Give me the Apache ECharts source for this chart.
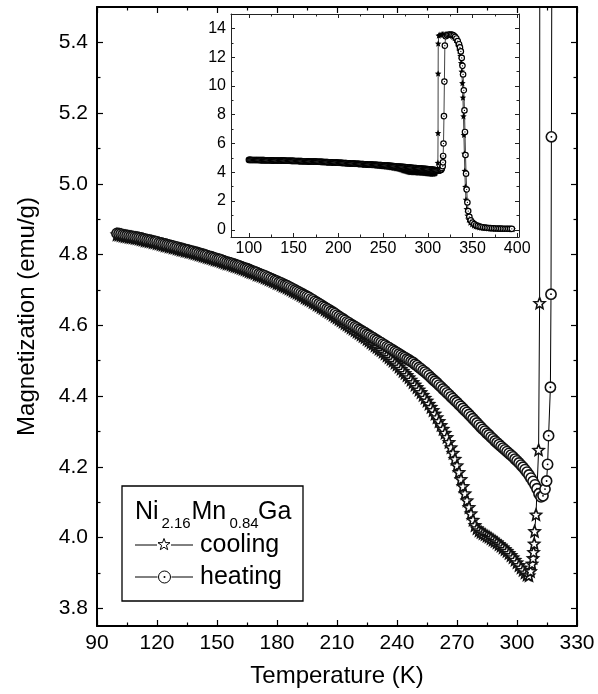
<!DOCTYPE html>
<html>
<head>
<meta charset="utf-8">
<script src="https://cdn.jsdelivr.net/npm/echarts@6/dist/echarts.min.js"></script>
<style>
  html, body { margin: 0; padding: 0; background: #fff; }
  #chart { width: 598px; height: 694px; }
</style>
</head>
<body>
<div id="chart"></div>
<script>
// Heating run: temperature (K) and magnetization (emu/g)
const heatT = [
  100,101,102,103,104,105,106,107,108,109,110,111,112,113,114,115,116,117,118,119,
  120,121,122,123,124,125,126,127,128,129,130,131,132,133,134,135,136,137,138,139,
  140,141,142,143,144,145,146,147,148,149,150,151,152,153,154,155,156,157,158,159,
  160,161,162,163,164,165,166,167,168,169,170,171,172,173,174,175,176,177,178,179,
  180,181,182,183,184,185,186,187,188,189,190,191,192,193,194,195,196,197,198,199,
  200,201,202,203,204,205,206,207,208,209,210,211,212,213,214,215,216,217,218,219,
  220,221,222,223,224,225,226,227,228,229,230,231,232,233,234,235,236,237,238,239,
  240,241,242,243,244,245,246,247,248,249,250,251,252,253,254,255,256,257,258,259,
  260,261,262,263,264,265,266,267,268,269,270,271,272,273,274,275,276,277,278,279,
  280,281,282,283,284,285,286,287,288,289,290,291,292,293,294,295,296,297,298,299,
  300,301,302,303,304,305,306,307,308,309,310,
  311,312,313,314,314.8,315.3,315.8,316.7,317.0,317.2,
  317.6,318.1,318.6,319.1,
  320,321.5,323,324.5,326,327.5,329,330.5,332,333.5,335,
  336,337,338,338.8,339.5,340.3,341,341.6,342.2,342.8,343.5,344.3,345.2,346.5,
  348,350,352,354,356,358,360,362,364,366,368,370,372,374,376,378,380,382,384,386,388,390,392,394];
const heatM = [
  4.860,4.859,4.858,4.856,4.855,4.854,4.853,4.852,4.851,4.850,4.849,4.848,4.847,4.845,4.844,4.842,4.841,4.840,4.838,4.837,
  4.836,4.834,4.833,4.831,4.830,4.828,4.827,4.825,4.824,4.822,4.821,4.819,4.818,4.816,4.815,4.813,4.812,4.810,4.809,4.807,
  4.806,4.804,4.802,4.801,4.799,4.797,4.795,4.794,4.792,4.790,4.788,4.787,4.785,4.783,4.781,4.779,4.777,4.776,4.774,4.772,
  4.770,4.768,4.766,4.764,4.762,4.760,4.758,4.755,4.753,4.751,4.749,4.746,4.744,4.742,4.740,4.737,4.735,4.732,4.730,4.727,
  4.725,4.722,4.720,4.717,4.714,4.712,4.709,4.706,4.703,4.700,4.697,4.694,4.691,4.688,4.685,4.682,4.679,4.675,4.672,4.668,
  4.665,4.661,4.658,4.654,4.651,4.647,4.644,4.640,4.637,4.633,4.629,4.625,4.621,4.618,4.614,4.610,4.607,4.603,4.600,4.596,
  4.593,4.589,4.586,4.582,4.579,4.575,4.572,4.568,4.565,4.561,4.558,4.554,4.551,4.547,4.544,4.540,4.537,4.533,4.530,4.526,
  4.523,4.519,4.516,4.512,4.509,4.505,4.502,4.498,4.495,4.490,4.486,4.481,4.477,4.472,4.468,4.463,4.458,4.452,4.447,4.442,
  4.437,4.431,4.426,4.420,4.415,4.409,4.404,4.398,4.393,4.387,4.382,4.376,4.371,4.365,4.359,4.354,4.348,4.342,4.336,4.330,
  4.324,4.318,4.312,4.306,4.301,4.295,4.290,4.284,4.279,4.273,4.268,4.263,4.258,4.253,4.248,4.243,4.238,4.233,4.228,4.222,
  4.217,4.211,4.205,4.199,4.192,4.185,4.177,4.168,4.159,4.149,4.138,
  4.124,4.115,4.118,4.137,4.160,4.207,4.288,4.425,4.688,5.133,
  6.0,7.9,10.3,12.8,
  13.45,13.52,13.56,13.58,13.57,13.55,13.5,13.42,13.3,13.12,12.9,
  12.68,12.4,11.95,11.4,10.8,9.7,8.3,6.8,5.2,3.9,2.8,1.9,1.3,0.9,
  0.66,0.5,0.4,0.32,0.27,0.23,0.2,0.18,0.16,0.14,0.13,0.12,0.11,0.1,0.095,0.09,0.085,0.08,0.078,0.075,0.072,0.07,0.068,0.065];

// Cooling run: temperature (K) and magnetization (emu/g)
const coolT = [
  100,101,102,103,104,105,106,107,108,109,110,111,112,113,114,115,116,117,118,119,
  120,121,122,123,124,125,126,127,128,129,130,131,132,133,134,135,136,137,138,139,
  140,141,142,143,144,145,146,147,148,149,150,151,152,153,154,155,156,157,158,159,
  160,161,162,163,164,165,166,167,168,169,170,171,172,173,174,175,176,177,178,179,
  180,181,182,183,184,185,186,187,188,189,190,191,192,193,194,195,196,197,198,199,
  200,201,202,203,204,205,206,207,208,209,210,211,212,213,214,215,216,217,218,219,
  220,221,222,223,224,225,226,227,228,229,230,231,232,233,234,235,236,237,238,239,
  240,241,242,243,244,245,246,247,248,249,250,251,252,253,254,255,256,257,258,259,
  260,261,262,263,264,265,266,267,268,269,270,271,272,273,274,275,276,277,278,279,
  280,281,282,283,284,285,286,287,288,289,290,291,292,293,294,295,296,297,298,299,
  300,301,302,303,304,305,
  306,306.8,307.5,308,308.3,308.6,308.8,309.5,310.8,311.3,
  311.5,311.6,311.7,312.3,313.5,315,316.5,318,319.5,321,322.5,324,325.5,327,328.5,330,331.5,333,334.5,335.5,336.5,337.3,338,338.7,339.3,339.9,340.4,340.9,341.4,342,342.7,343.5,344.5,345.8,347.5,
  349.5,351.5,353.5,355.5,357.5,359.5,361.5,363.5,365.5,367.5,369.5,371.5,373.5,375.5,377.5,379.5,381.5,383.5,385.5,387.5,389.5,391.5,393.5,395];
const coolM = [
  4.857,4.856,4.855,4.853,4.852,4.851,4.850,4.849,4.848,4.847,4.846,4.845,4.843,4.842,4.840,4.839,4.838,4.837,4.835,4.834,
  4.832,4.831,4.829,4.828,4.826,4.825,4.823,4.822,4.820,4.819,4.817,4.816,4.814,4.813,4.811,4.810,4.808,4.807,4.805,4.804,
  4.802,4.800,4.799,4.797,4.795,4.793,4.792,4.790,4.788,4.786,4.785,4.783,4.781,4.779,4.777,4.775,4.774,4.772,4.770,4.768,
  4.766,4.764,4.762,4.760,4.758,4.756,4.753,4.751,4.749,4.747,4.744,4.742,4.740,4.738,4.735,4.733,4.730,4.728,4.725,4.723,
  4.720,4.718,4.715,4.712,4.710,4.707,4.704,4.701,4.698,4.695,4.692,4.689,4.686,4.683,4.679,4.676,4.673,4.670,4.666,4.663,
  4.659,4.656,4.652,4.649,4.645,4.641,4.638,4.634,4.630,4.626,4.622,4.618,4.614,4.610,4.606,4.602,4.598,4.594,4.590,4.586,
  4.582,4.578,4.574,4.570,4.566,4.561,4.557,4.552,4.548,4.543,4.539,4.534,4.530,4.525,4.520,4.515,4.510,4.505,4.500,4.494,
  4.489,4.483,4.477,4.471,4.465,4.459,4.453,4.446,4.439,4.432,4.425,4.418,4.411,4.403,4.395,4.387,4.378,4.369,4.360,4.350,
  4.340,4.329,4.318,4.307,4.296,4.284,4.270,4.255,4.239,4.222,4.204,4.185,4.165,4.145,4.125,4.105,4.086,4.068,4.050,4.035,
  4.026,4.020,4.016,4.012,4.009,4.005,4.002,3.998,3.994,3.990,3.986,3.981,3.977,3.972,3.967,3.962,3.956,3.950,3.944,3.937,
  3.930,3.922,3.915,3.908,3.901,3.895,
  3.893,3.905,3.926,3.942,3.959,3.983,4.018,4.065,4.248,4.663,
  6.73,10.86,12.95,13.5,13.55,13.58,13.6,13.6,13.6,13.59,13.57,13.55,13.52,13.48,13.42,13.33,13.2,13.0,12.72,12.45,12.1,11.6,11.0,10.2,9.2,7.9,6.6,5.3,4.1,3.0,2.1,1.45,1.0,0.72,0.5,
  0.38,0.3,0.25,0.21,0.18,0.16,0.14,0.13,0.12,0.11,0.1,0.095,0.09,0.085,0.08,0.078,0.075,0.072,0.07,0.068,0.066,0.064,0.062,0.06];

// Tick values
const mainYMajor = [3.8, 4.0, 4.2, 4.4, 4.6, 4.8, 5.0, 5.2, 5.4];
const mainYMinor = [3.9, 4.1, 4.3, 4.5, 4.7, 4.9, 5.1, 5.3];
const insetXMajor = [100, 150, 200, 250, 300, 350, 400];
const insetXMinor = [125, 175, 225, 275, 325, 375];
const insetYMajor = [0, 2, 4, 6, 8, 10, 12, 14];
const insetYMinor = [1, 3, 5, 7, 9, 11, 13];

const pairs = (xs, ys) => xs.slice(0, Math.min(xs.length, ys.length)).map((x, i) => [x, ys[i]]);
const heating = pairs(heatT, heatM);
const cooling = pairs(coolT, coolM);

const FONT = '"Liberation Sans", Arial, Helvetica, sans-serif';
const STAR = 'path://M0,-10 L2.645,-3.64 L9.51,-3.09 L4.28,1.39 L5.88,8.09 L0,4.5 L-5.88,8.09 L-4.28,1.39 L-9.51,-3.09 L-2.645,-3.64 Z';

// Axis builder: a frame edge with inward ticks, optional labels
function ax(o) {
  const lineW = o.lineW || 2;
  const a = {
    type: 'value',
    gridIndex: o.grid,
    position: o.pos,
    min: o.min,
    max: o.max,
    splitLine: { show: false },
    axisLine: { show: o.line !== false, onZero: false, lineStyle: { color: o.color || '#000', width: lineW } },
    axisTick: { show: true, inside: true, length: o.tickLen, lineStyle: { color: o.color || '#000', width: o.tickW || 1.2 } },
    axisLabel: { show: !!o.labels, color: '#000', fontFamily: FONT, fontSize: o.fontSize || 20, margin: o.margin || 8,
                 formatter: o.fmt },
  };
  if (o.interval) {
    a.interval = o.interval;
    if (o.minor) a.minorTick = { show: true, splitNumber: o.minor, length: o.minorLen, lineStyle: { color: o.color || '#000', width: o.tickW || 1.2 } };
  } else {
    a.axisTick.customValues = o.ticks;
    a.axisLabel.customValues = o.ticks;
  }
  return a;
}

const mainX = { grid: 0, min: 90, max: 330, interval: 30, minor: 2, tickLen: 6, minorLen: 3.5 };
const insetXBase = { grid: 1, min: 80, max: 402, lineW: 1, color: '#222', tickW: 1, fontSize: 16, margin: 4 };
const insetYBase = { grid: 1, min: -0.5, max: 15, lineW: 1, color: '#222', tickW: 1, fontSize: 16, margin: 5 };
const mainYBase = { grid: 0, min: 3.75, max: 5.5 };

const xAxes = [
  Object.assign(ax(Object.assign({}, mainX, { pos: 'bottom', labels: true, fontSize: 21, margin: 7 })), {
    name: 'Temperature (K)', nameLocation: 'middle', nameGap: 38,
    nameTextStyle: { fontFamily: FONT, fontSize: 24, color: '#000' }
  }),
  ax(Object.assign({}, mainX, { pos: 'top' })),
  ax(Object.assign({}, insetXBase, { pos: 'bottom', ticks: insetXMajor, tickLen: 4, labels: true })),
  ax(Object.assign({}, insetXBase, { pos: 'bottom', ticks: insetXMinor, tickLen: 2.5, line: false })),
  ax(Object.assign({}, insetXBase, { pos: 'top', ticks: insetXMajor, tickLen: 4 })),
  ax(Object.assign({}, insetXBase, { pos: 'top', ticks: insetXMinor, tickLen: 2.5, line: false })),
];

const yAxes = [
  Object.assign(ax(Object.assign({}, mainYBase, { pos: 'left', ticks: mainYMajor, tickLen: 6, labels: true, fontSize: 21, margin: 9,
    fmt: v => v.toFixed(1) })), {
    name: 'Magnetization (emu/g)', nameLocation: 'middle', nameGap: 58, nameRotate: 90,
    nameTextStyle: { fontFamily: FONT, fontSize: 24, color: '#000' }
  }),
  ax(Object.assign({}, mainYBase, { pos: 'left', ticks: mainYMinor, tickLen: 3.5, line: false })),
  ax(Object.assign({}, mainYBase, { pos: 'right', ticks: mainYMajor, tickLen: 6 })),
  ax(Object.assign({}, mainYBase, { pos: 'right', ticks: mainYMinor, tickLen: 3.5, line: false })),
  ax(Object.assign({}, insetYBase, { pos: 'left', ticks: insetYMajor, tickLen: 4, labels: true })),
  ax(Object.assign({}, insetYBase, { pos: 'left', ticks: insetYMinor, tickLen: 2.5, line: false })),
  ax(Object.assign({}, insetYBase, { pos: 'right', ticks: insetYMajor, tickLen: 4 })),
  ax(Object.assign({}, insetYBase, { pos: 'right', ticks: insetYMinor, tickLen: 2.5, line: false })),
];

// Open circle with a centre dot, drawn point by point so later points overlap earlier ones
function dottedCircle(r, stroke, lw, dotR) {
  return function (params, api) {
    const p = api.coord([api.value(0), api.value(1)]);
    return {
      type: 'group',
      children: [
        { type: 'circle', shape: { cx: p[0], cy: p[1], r: r }, style: { fill: '#fff', stroke: stroke, lineWidth: lw } },
        { type: 'circle', shape: { cx: p[0], cy: p[1], r: dotR }, style: { fill: '#000' } },
      ],
    };
  };
}

// Legend panel: composition label plus line/marker keys
const LX = 122, LY = 486;
const legendGraphics = [
  { type: 'rect', shape: { x: LX, y: LY, width: 181, height: 115 }, style: { fill: '#fff', stroke: '#000', lineWidth: 1.3 }, z: 50 },
  { type: 'text', x: 135, y: 512, style: { text: 'Ni', font: '25px ' + FONT, fill: '#000', verticalAlign: 'middle' }, z: 51 },
  { type: 'text', x: 161.5, y: 523.5, style: { text: '2.16', font: '15px ' + FONT, fill: '#000', verticalAlign: 'middle' }, z: 51 },
  { type: 'text', x: 191.5, y: 512, style: { text: 'Mn', font: '25px ' + FONT, fill: '#000', verticalAlign: 'middle' }, z: 51 },
  { type: 'text', x: 229.5, y: 523.5, style: { text: '0.84', font: '15px ' + FONT, fill: '#000', verticalAlign: 'middle' }, z: 51 },
  { type: 'text', x: 258, y: 512, style: { text: 'Ga', font: '25px ' + FONT, fill: '#000', verticalAlign: 'middle' }, z: 51 },
  // cooling key
  { type: 'line', shape: { x1: 135, y1: 545, x2: 157, y2: 545 }, style: { stroke: '#000', lineWidth: 1 }, z: 51 },
  { type: 'line', shape: { x1: 171, y1: 545, x2: 193, y2: 545 }, style: { stroke: '#000', lineWidth: 1 }, z: 51 },
  { type: 'polygon', shape: { points: [[164,538.5],[165.5,542.6],[170,542.7],[166.4,545.4],[167.7,549.7],[164,547.2],[160.3,549.7],[161.6,545.4],[158,542.7],[162.5,542.6]] },
    style: { fill: '#fff', stroke: '#000', lineWidth: 1 }, z: 51 },
  { type: 'text', x: 200, y: 545, style: { text: 'cooling', font: '25px ' + FONT, fill: '#000', verticalAlign: 'middle' }, z: 51 },
  // heating key
  { type: 'line', shape: { x1: 135, y1: 577, x2: 157.5, y2: 577 }, style: { stroke: '#000', lineWidth: 1 }, z: 51 },
  { type: 'line', shape: { x1: 171.5, y1: 577, x2: 193, y2: 577 }, style: { stroke: '#000', lineWidth: 1 }, z: 51 },
  { type: 'circle', shape: { cx: 164.5, cy: 577, r: 6 }, style: { fill: '#fff', stroke: '#000', lineWidth: 1 }, z: 51 },
  { type: 'circle', shape: { cx: 164.5, cy: 577, r: 1 }, style: { fill: '#000' }, z: 52 },
  { type: 'text', x: 200, y: 577, style: { text: 'heating', font: '25px ' + FONT, fill: '#000', verticalAlign: 'middle' }, z: 51 },
];

const option = {
  animation: false,
  backgroundColor: '#fff',
  grid: [
    { left: 97, top: 7, width: 480, height: 619 },
    { left: 231, top: 14, width: 288, height: 223 },
  ],
  xAxis: xAxes,
  yAxis: yAxes,
  graphic: legendGraphics,
  series: [
    // main panel
    {
      name: 'cooling', type: 'line', xAxisIndex: 0, yAxisIndex: 0, data: cooling, clip: true,
      symbol: STAR, symbolSize: 11, z: 3,
      itemStyle: { color: '#fff', borderColor: '#111', borderWidth: 1.6 },
      lineStyle: { color: '#000', width: 1 },
    },
    {
      name: 'heating line', type: 'line', xAxisIndex: 0, yAxisIndex: 0, data: heating, clip: true,
      showSymbol: false, z: 3, lineStyle: { color: '#000', width: 1 },
    },
    {
      name: 'heating', type: 'custom', xAxisIndex: 0, yAxisIndex: 0, data: heating, clip: true, z: 4,
      renderItem: dottedCircle(5.1, '#111', 1.6, 0.9),
    },
    // inset panel, full temperature range
    {
      name: 'cooling (full range)', type: 'line', xAxisIndex: 2, yAxisIndex: 4, data: cooling, clip: true,
      symbol: STAR, symbolSize: 6.5, z: 6,
      itemStyle: { color: '#000' },
      lineStyle: { color: '#111', width: 0.8 },
    },
    {
      name: 'heating line (full range)', type: 'line', xAxisIndex: 2, yAxisIndex: 4, data: heating, clip: true,
      showSymbol: false, z: 6, lineStyle: { color: '#111', width: 0.8 },
    },
    {
      name: 'heating (full range)', type: 'custom', xAxisIndex: 2, yAxisIndex: 4, data: heating, clip: true, z: 7,
      renderItem: dottedCircle(2.7, '#000', 1.2, 0.6),
    },
  ],
};

const chart = echarts.init(document.getElementById('chart'), null, { renderer: 'canvas' });
chart.setOption(option);
</script>
</body>
</html>
